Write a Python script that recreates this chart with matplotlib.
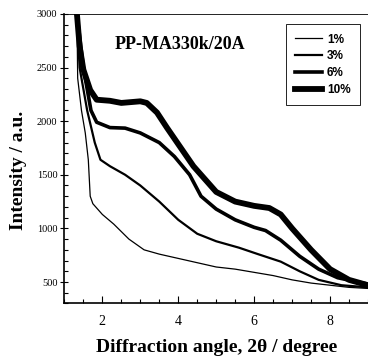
import matplotlib
matplotlib.use('Agg')
import matplotlib.pyplot as plt
from matplotlib.ticker import MultipleLocator

# diffraction angle (2theta, degree) and intensity
x_1 = [1.33, 1.35, 1.45, 1.55, 1.63, 1.68, 1.75, 2.0, 2.3, 2.7, 3.1, 3.5,
       4.0, 4.5, 5.0, 5.5, 6.0, 6.5, 7.0, 7.5, 8.0, 8.5, 9.0]
y_1 = [3000, 2400, 2100, 1890, 1640, 1300, 1230, 1130, 1040, 900, 800, 760,
       720, 680, 640, 620, 590, 560, 520, 490, 470, 450, 440]

x_3 = [1.33, 1.4, 1.6, 1.8, 1.95, 2.2, 2.6, 3.0, 3.5, 4.0, 4.5, 5.0, 5.6,
       6.1, 6.7, 7.2, 7.7, 8.3, 9.0]
y_3 = [3000, 2500, 2100, 1800, 1640, 1580, 1500, 1400, 1250, 1080, 950, 880,
       820, 760, 690, 600, 520, 470, 450]

x_6 = [1.33, 1.5, 1.7, 1.85, 2.2, 2.6, 3.0, 3.5, 3.9, 4.3, 4.6, 5.0, 5.5,
       6.0, 6.3, 6.7, 7.2, 7.7, 8.2, 9.0]
y_6 = [3000, 2500, 2100, 1990, 1940, 1935, 1890, 1800, 1670, 1500, 1300,
       1180, 1080, 1010, 980, 890, 740, 620, 540, 480]

x_10 = [1.33, 1.4, 1.5, 1.68, 1.85, 2.2, 2.5, 3.0, 3.17, 3.44, 3.7, 4.04,
        4.4, 4.6, 5.0, 5.5, 6.0, 6.4, 6.7, 7.0, 7.5, 8.0, 8.5, 9.0]
y_10 = [3000, 2700, 2480, 2290, 2200, 2190, 2170, 2185, 2170, 2080, 1940,
        1765, 1580, 1500, 1340, 1250, 1210, 1190, 1130, 1000, 800, 620, 520, 470]

labels = ['1%', '3%', '6%', '10%']


def main():
    fig = plt.figure(figsize=(3.68, 3.57), dpi=100)
    ax = fig.add_axes([0.175, 0.150, 0.825, 0.811])

    serif = 'Liberation Serif'
    ax.plot(x_1, y_1, color='black', lw=0.9, label=labels[0])
    ax.plot(x_3, y_3, color='black', lw=1.6, label=labels[1])
    ax.plot(x_6, y_6, color='black', lw=2.6, label=labels[2])
    ax.plot(x_10, y_10, color='black', lw=4.2, label=labels[3])

    ax.set_xlim(1, 9)
    ax.set_ylim(300, 3000)
    ax.set_xticks([2, 4, 6, 8])
    ax.set_yticks([500, 1000, 1500, 2000, 2500, 3000])
    ax.xaxis.set_minor_locator(MultipleLocator(0.5))
    ax.yaxis.set_minor_locator(MultipleLocator(100))
    ax.tick_params(axis='x', which='major', direction='in', length=5, width=0.8, pad=8)
    ax.tick_params(axis='x', which='minor', direction='in', length=3, width=0.8)
    ax.tick_params(axis='y', which='major', direction='inout', length=6, width=0.8, pad=2)
    ax.tick_params(axis='y', which='minor', direction='in', length=3, width=0.8)
    ax.tick_params(top=False, right=False, which='both')
    for t in ax.get_xticklabels() + ax.get_yticklabels():
        t.set_fontfamily(serif)
    for t in ax.get_xticklabels():
        t.set_fontsize(10)
    for t in ax.get_yticklabels():
        t.set_fontsize(7.5)

    for s in ['left', 'bottom']:
        ax.spines[s].set_linewidth(1.2)
    ax.spines['top'].set_linewidth(0.6)
    ax.spines['right'].set_visible(False)

    ax.set_xlabel('Diffraction angle, 2\u03b8 / degree', fontfamily=serif,
                  fontweight='bold', fontsize=14, labelpad=8)
    ax.set_ylabel('Intensity / a.u.', fontfamily=serif,
                  fontweight='bold', fontsize=14)
    ax.yaxis.set_label_coords(-0.123, 0.46)

    ax.text(0.38, 0.893, 'PP-MA330k/20A', transform=ax.transAxes,
            fontfamily=serif, fontweight='bold', fontsize=13,
            ha='center', va='center')

    leg = ax.legend(loc='upper right', bbox_to_anchor=(0.974, 0.965),
                    borderaxespad=0,
                    prop={'family': 'Liberation Sans', 'weight': 'bold', 'size': 8.5},
                    handlelength=2.3, handletextpad=0.4, labelspacing=0.4,
                    borderpad=0.8, fancybox=False, framealpha=1)
    leg.get_frame().set_edgecolor('black')
    leg.get_frame().set_linewidth(0.6)

    fig.savefig('out.png', dpi=100)


if __name__ == '__main__':
    main()
